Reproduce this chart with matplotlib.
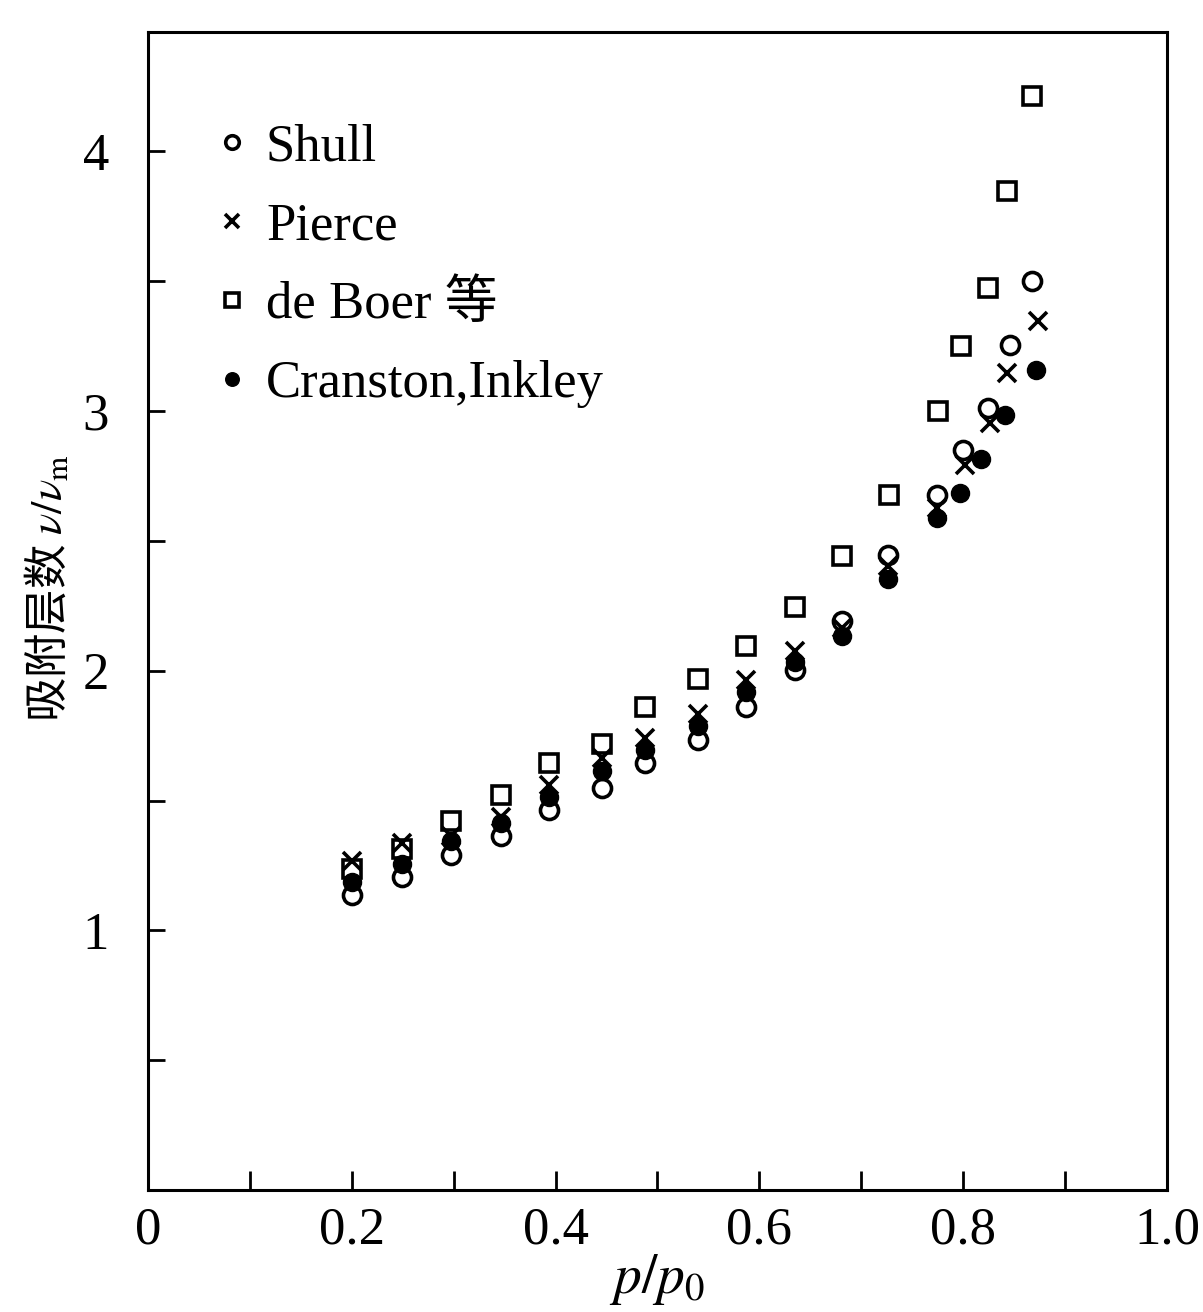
import numpy as np
import matplotlib
matplotlib.use("Agg")
import matplotlib.pyplot as plt
from matplotlib.ticker import FixedLocator, FixedFormatter

plt.rcParams['font.family'] = ['Liberation Serif', 'DejaVu Serif']
plt.rcParams['mathtext.fontset'] = 'stix'

# relative pressure p/p0 and adsorbed layers v/vm for each data set
x_shull = [0.200, 0.249, 0.297, 0.346, 0.394, 0.446, 0.488, 0.540, 0.587, 0.635,
           0.681, 0.726, 0.774, 0.800, 0.824, 0.846, 0.868]
y_shull = [1.135, 1.204, 1.292, 1.365, 1.465, 1.550, 1.646, 1.735, 1.862, 2.004,
           2.192, 2.446, 2.677, 2.850, 3.012, 3.254, 3.500]

x_pierce = [0.200, 0.249, 0.297, 0.346, 0.394, 0.446, 0.488, 0.540, 0.587, 0.635,
            0.681, 0.726, 0.774, 0.802, 0.826, 0.843, 0.873]
y_pierce = [1.269, 1.338, 1.365, 1.438, 1.558, 1.665, 1.742, 1.835, 1.965, 2.077,
            2.165, 2.404, 2.627, 2.792, 2.954, 3.146, 3.346]

x_boer = [0.200, 0.249, 0.297, 0.346, 0.394, 0.446, 0.488, 0.540, 0.587, 0.635,
          0.681, 0.727, 0.775, 0.798, 0.824, 0.843, 0.868]
y_boer = [1.235, 1.315, 1.423, 1.523, 1.646, 1.719, 1.862, 1.969, 2.096, 2.246,
          2.442, 2.677, 3.000, 3.250, 3.473, 3.846, 4.215]

x_cran = [0.200, 0.249, 0.297, 0.346, 0.394, 0.446, 0.488, 0.540, 0.587, 0.635,
          0.681, 0.726, 0.774, 0.797, 0.818, 0.841, 0.872]
y_cran = [1.188, 1.254, 1.346, 1.412, 1.512, 1.612, 1.696, 1.788, 1.919, 2.035,
          2.135, 2.354, 2.588, 2.685, 2.815, 2.985, 3.158]

x_ticks = [0, 0.2, 0.4, 0.6, 0.8, 1.0]
x_ticklabels = ["0", "0.2", "0.4", "0.6", "0.8", "1.0"]
y_ticks = [1, 2, 3, 4]
y_ticklabels = ["1", "2", "3", "4"]

fig = plt.figure(figsize=(12.03, 13.12), dpi=100)
ax = fig.add_axes([0.123, 0.093, 0.847, 0.8826])

ax.plot(x_boer, y_boer, ls='none', marker='s', ms=13, mfc='white', mec='black',
        mew=2.6, label='de Boer 等', zorder=3)
ax.plot(x_shull, y_shull, ls='none', marker='o', ms=13, mfc='white', mec='black',
        mew=2.6, label='Shull', zorder=4)
ax.plot(x_pierce, y_pierce, ls='none', marker='x', ms=13, mec='black',
        mew=2.6, label='Pierce', zorder=5)
ax.plot(x_cran, y_cran, ls='none', marker='o', ms=13, mfc='black', mec='black',
        mew=1, label='Cranston,Inkley', zorder=6)

ax.set_xlim(0, 1.0)
ax.set_ylim(0, 4.46)

ax.xaxis.set_major_locator(FixedLocator(x_ticks))
ax.xaxis.set_major_formatter(FixedFormatter(x_ticklabels))
ax.xaxis.set_minor_locator(FixedLocator(np.arange(0.1, 1.0, 0.2)))
ax.yaxis.set_major_locator(FixedLocator(y_ticks))
ax.yaxis.set_major_formatter(FixedFormatter(y_ticklabels))
ax.yaxis.set_minor_locator(FixedLocator([0.5, 1.5, 2.5, 3.5]))

ax.tick_params(which='both', direction='in', top=False, right=False,
               width=2, labelsize=38)
ax.tick_params(axis='x', which='both', length=14, pad=12)
ax.tick_params(axis='y', which='both', length=12, pad=28)
for s in ax.spines.values():
    s.set_linewidth(2.2)

ax.set_xlabel('$p/p_0$', fontsize=40, labelpad=-2)
ax.set_ylabel('吸附层数 $\\nu/\\nu_\\mathrm{m}$', fontsize=32,
              family=['Noto Sans CJK SC', 'DejaVu Sans'])
ax.yaxis.set_label_coords(-0.075, 0.52)

handles, labels = ax.get_legend_handles_labels()
order = [1, 2, 0, 3]
leg = ax.legend([handles[i] for i in order], [labels[i] for i in order],
                loc='upper left', bbox_to_anchor=(0.02, 0.962), frameon=False,
                markerscale=0.75, handlelength=0.6,
                handletextpad=0.35, labelspacing=0.58,
                prop={'family': ['Liberation Serif', 'Noto Sans CJK SC'], 'size': 38})

fig.savefig('out.png', dpi=100)
